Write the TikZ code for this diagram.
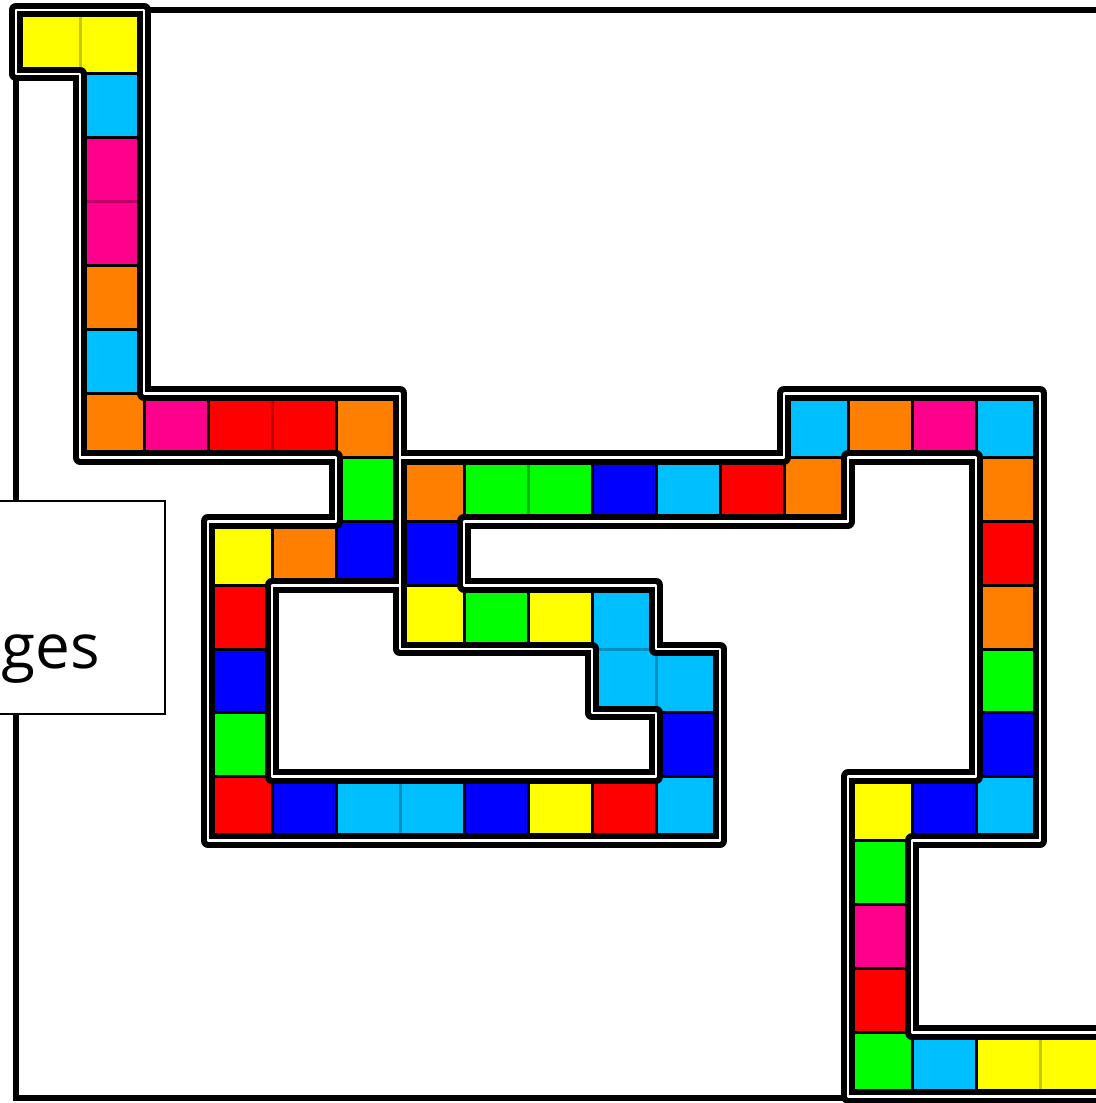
\documentclass[tikz,border=0pt]{standalone}
\usepackage{fontspec}
\newfontfamily\lblfont{Open Sans}
\definecolor{cY}{HTML}{FFFF00}
\definecolor{cC}{HTML}{00BFFF}
\definecolor{cP}{HTML}{FF008C}
\definecolor{cO}{HTML}{FF8000}
\definecolor{cR}{HTML}{FF0000}
\definecolor{cG}{HTML}{00FF00}
\definecolor{cB}{HTML}{0000FF}
\tikzset{
  cellbox/.style={draw=black, line width=1.5pt},
  samedge/.style={line width=1.5pt},
  wall/.style={draw=black, line width=3pt, double=white, double distance=1.4pt, line join=round},
  frame/.style={draw=black, line width=3pt},
  lblbox/.style={draw=black, fill=white, line width=1pt, inner sep=0pt, minimum width=92.5pt, minimum height=106.25pt},
  lbltext/.style={inner sep=0pt, anchor=base east, font=\lblfont\fontsize{31}{37}\selectfont}
}
\begin{document}
\begin{tikzpicture}[x=0.5pt,y=-0.5pt]
\useasboundingbox (0,0) rectangle (1096,1103);
\clip (0,0) rectangle (1096,1103);
\fill[white] (0,0) rectangle (1096,1103);
\draw[frame] (16,10) rectangle (1300,1098);
\begin{scope}[shift={(8pt,-5pt)}, x=32pt, y=-31.95pt]
  \foreach \c/\r/\col in {0/0/cY,1/0/cY,1/1/cC,1/2/cP,1/3/cP,1/4/cO,1/5/cC,1/6/cO,2/6/cP,3/6/cR,4/6/cR,5/6/cO,
    5/7/cG,5/8/cB,4/8/cO,3/8/cY,3/9/cR,3/10/cB,3/11/cG,3/12/cR,4/12/cB,5/12/cC,6/12/cC,7/12/cB,8/12/cY,9/12/cR,10/12/cC,
    10/11/cB,10/10/cC,9/10/cC,9/9/cC,8/9/cY,7/9/cG,6/9/cY,6/8/cB,6/7/cO,7/7/cG,8/7/cG,9/7/cB,10/7/cC,11/7/cR,12/7/cO,
    12/6/cC,13/6/cO,14/6/cP,15/6/cC,15/7/cO,15/8/cR,15/9/cO,15/10/cG,15/11/cB,15/12/cC,14/12/cB,13/12/cY,
    13/13/cG,13/14/cP,13/15/cR,13/16/cG,14/16/cC,15/16/cY,16/16/cY}
    \draw[cellbox, fill=\col] (\c,\r) rectangle ++(1,1);
  % shared edges between cells of the same colour
  \draw[samedge, draw=cY!78!black] (1,0) -- (1,1);
  \draw[samedge, draw=cP!75!black] (1,3) -- (2,3);
  \draw[samedge, draw=cR!75!black] (4,6) -- (4,7);
  \draw[samedge, draw=cC!75!black] (6,12) -- (6,13);
  \draw[samedge, draw=cC!75!black] (10,10) -- (10,11);
  \draw[samedge, draw=cC!75!black] (9,10) -- (10,10);
  \draw[samedge, draw=cG!72!black] (8,7) -- (8,8);
  \draw[samedge, draw=cY!78!black] (16,16) -- (16,17);
  % walls of the track
  \draw[wall] (18,17) -- (13,17) -- (13,12) -- (15,12) -- (15,7) -- (13,7) -- (13,8) -- (7,8) -- (7,9)
    -- (10,9) -- (10,10) -- (11,10) -- (11,13) -- (3,13) -- (3,8) -- (5,8) -- (5,7) -- (1,7) -- (1,1)
    -- (0,1) -- (0,0) -- (2,0) -- (2,6) -- (6,6) -- (6,9) -- (4,9) -- (4,12) -- (10,12) -- (10,11)
    -- (9,11) -- (9,10) -- (6,10) -- (6,7) -- (12,7) -- (12,6) -- (16,6) -- (16,13) -- (14,13)
    -- (14,16) -- (18,16);
\end{scope}
\node[lblbox] (lbl) at (72.5,607.25) {};
\node[lbltext] (lbltxt) at (100,668) {ges};
\end{tikzpicture}
\end{document}
